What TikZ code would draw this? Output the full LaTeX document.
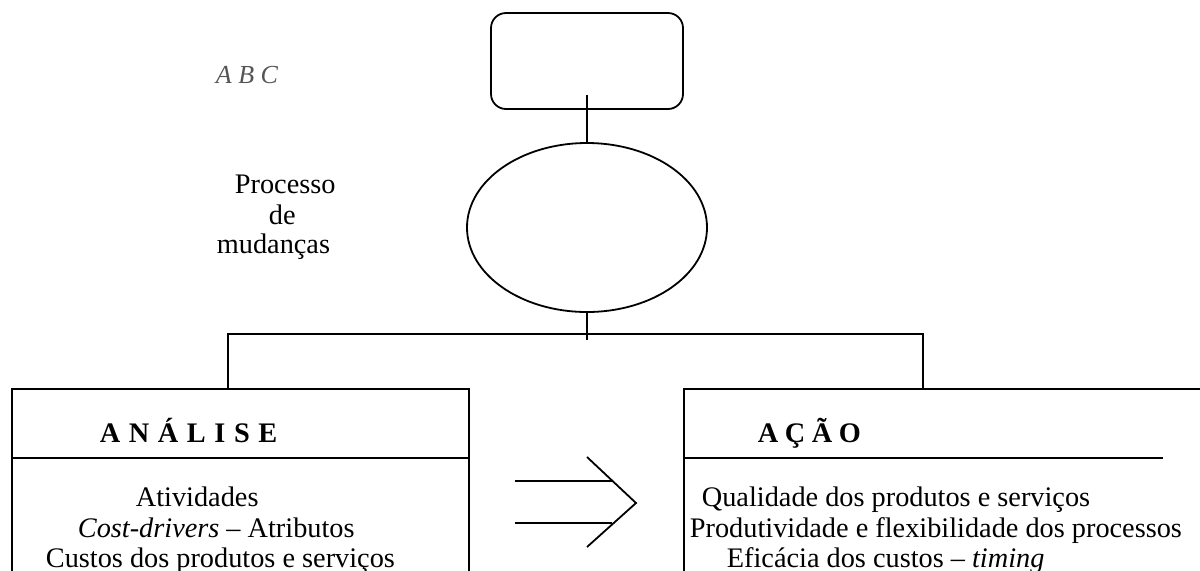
\documentclass[tikz,border=0pt]{standalone}
\usepackage{fontspec}
\setmainfont{Liberation Serif}
\usetikzlibrary{shapes.geometric,calc}
\definecolor{abcgray}{HTML}{555555}
\begin{document}
\begin{tikzpicture}[x=0.5pt,y=-0.5pt,line width=0.9pt,
  txt/.style={anchor=base west,inner sep=0pt,font=\fontsize{14.15pt}{15.25pt}\selectfont},
  hdr/.style={anchor=base west,inner sep=0pt,font=\fontsize{14.15pt}{15.25pt}\selectfont\bfseries},
  boxshape/.style={draw,rectangle,inner sep=0pt,anchor=north west},
  ]
\useasboundingbox (0,0) rectangle (1200,570);
\clip (0,0) rectangle (1200,570);

% top rounded box and ellipse
\node[draw,rectangle,rounded corners=7.5pt,inner sep=0pt,minimum width=96pt,minimum height=48pt] (top) at (587,61) {};
\node[draw,ellipse,inner sep=0pt,minimum width=120pt,minimum height=84.5pt] (ell) at (587,227.5) {};

% analysis and action boxes (bottom cut by the frame)
\node[boxshape,minimum width=228.5pt,minimum height=120pt] (ana) at (11,388) {};
\node[boxshape,minimum width=300pt,minimum height=120pt] (aca) at (683,388) {};

% helper coordinates
\coordinate (j) at (587,334);
\coordinate (d) at (0,458);
\coordinate (de) at (1163,458);
\path (ana.north west) ++(217,0) coordinate (lt);
\path (aca.north west) ++(240,0) coordinate (rt);

% connectors
\draw ([yshift=7.5pt]top.south) -- (ell.north);
\draw (ell.south) -- ([yshift=-3pt]j);
\draw (lt) -- (lt|-j) -- (rt|-j) -- (rt);

% header dividers
\draw (ana.west|-d) -- (ana.east|-d);
\draw (aca.west|-d) -- (de);

% double arrow between boxes
\coordinate (a1) at (515,481);
\coordinate (a2) at (515,523);
\coordinate (c1) at (587,457);
\coordinate (c2) at (636,503);
\coordinate (c3) at (587,547);
\draw (a1) -- (a1-|612,0);
\draw (a2) -- (a2-|612,0);
\draw (c1) -- (c2) -- (c3);

% texts
\node[txt,font=\fontsize{13pt}{15pt}\selectfont\itshape,text=abcgray] (abc) at (215,83) {A B C};
\node[txt] (p1) at (234,193) {Processo};
\node[txt] (p2) at (268,224) {de};
\node[txt] (p3) at (216,253) {mudanças};

\node[hdr] (h1) at (99,442) {A\hspace{4.3pt}N\hspace{4.3pt}Á\hspace{4.3pt}L\hspace{4.3pt}I\hspace{4.3pt}S\hspace{4.3pt}E};
\node[hdr] (h2) at (757,442) {A\hspace{3.3pt}Ç\hspace{3.3pt}Ã\hspace{3.3pt}O};

\node[txt] (l1) at (135,506) {Atividades};
\node[txt] (l2) at (77,537) {\textit{Cost-drivers} – Atributos};
\node[txt] (l3) at (45,567) {Custos dos produtos e serviços};

\node[txt] (r1) at (701,506) {Qualidade dos produtos e serviços};
\node[txt] (r2) at (689,537) {Produtividade e flexibilidade dos processos};
\node[txt] (r3) at (726,567) {Eficácia dos custos – \textit{timing}};
\end{tikzpicture}
\end{document}
